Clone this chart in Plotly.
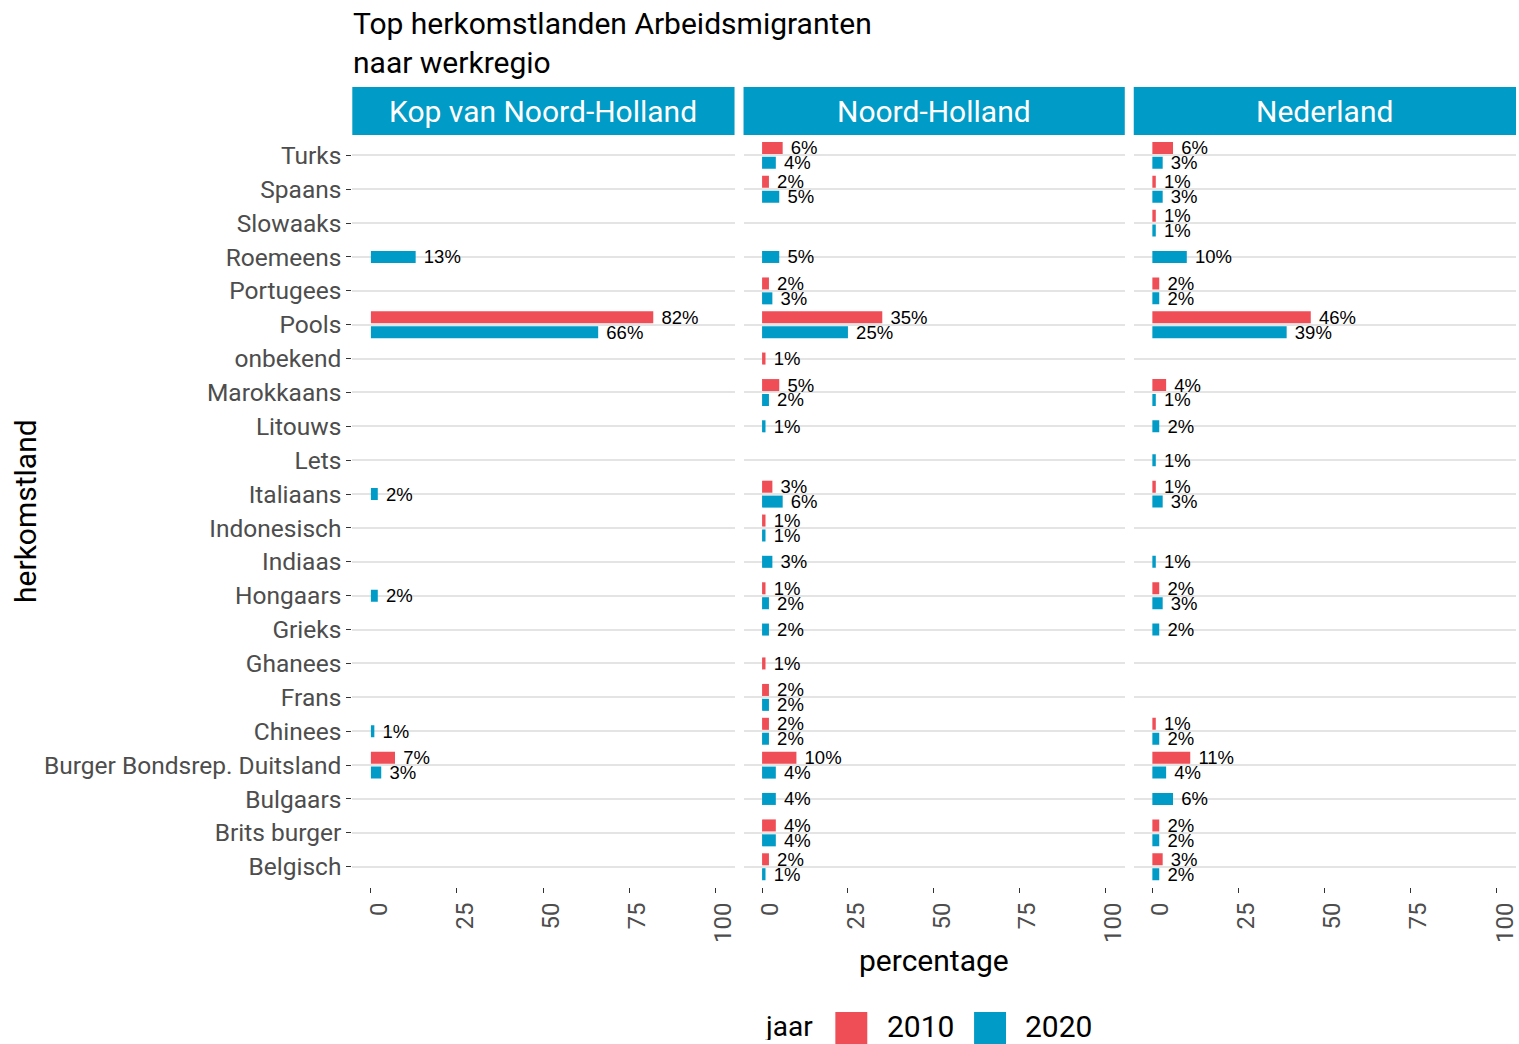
import plotly.graph_objects as go

# ---------------- data ----------------
categories = [
    "Belgisch", "Brits burger", "Bulgaars", "Burger Bondsrep. Duitsland", "Chinees",
    "Frans", "Ghanees", "Grieks", "Hongaars", "Indiaas", "Indonesisch", "Italiaans",
    "Lets", "Litouws", "Marokkaans", "onbekend", "Pools", "Portugees", "Roemeens",
    "Slowaaks", "Spaans", "Turks",
]
panels = ["Kop van Noord-Holland", "Noord-Holland", "Nederland"]
years = ["2010", "2020"]

kop_2010 = [None, None, None, 7, None, None, None, None, None, None, None, None,
            None, None, None, None, 82, None, None, None, None, None]
kop_2020 = [None, None, None, 3, 1, None, None, None, 2, None, None, 2,
            None, None, None, None, 66, None, 13, None, None, None]

nh_2010 = [2, 4, None, 10, 2, 2, 1, None, 1, None, 1, 3,
           None, None, 5, 1, 35, 2, None, None, 2, 6]
nh_2020 = [1, 4, 4, 4, 2, 2, None, 2, 2, 3, 1, 6,
           None, 1, 2, None, 25, 3, 5, None, 5, 4]

nl_2010 = [3, 2, None, 11, 1, None, None, None, 2, None, None, 1,
           None, None, 4, None, 46, 2, None, 1, 1, 6]
nl_2020 = [2, 2, 6, 4, 2, None, None, 2, 3, 1, None, 3,
           1, 2, 1, None, 39, 2, 10, 1, 3, 3]

x_ticks = [0, 25, 50, 75, 100]

# ---------------- style ----------------
W, H = 1519, 1044
RED = "#F04E56"
BLUE = "#009BC6"
STRIP = "#009BC6"
AXIS_TXT = "#4D4D4D"
GRID = "#E4E4E4"
MAIN_FONT = "Roboto"
LABEL_FONT = "Liberation Sans"

panel_px = [(353, 736), (745, 1127), (1136, 1519)]
panel_top, panel_bot = 135, 887
strip_top = 87

BAR_W = 0.355
OFF_UPPER = 0.04
OFF_LOWER = -0.40
OFF_SINGLE = -BAR_W / 2

data_by_panel = [(kop_2010, kop_2020), (nh_2010, nh_2020), (nl_2010, nl_2020)]
colors = {"2010": RED, "2020": BLUE}

fig = go.Figure()

for pi, (v10, v20) in enumerate(data_by_panel):
    xa = "x" if pi == 0 else f"x{pi + 1}"
    ya = "y" if pi == 0 else f"y{pi + 1}"
    for yr, vals, other in (("2010", v10, v20), ("2020", v20, v10)):
        offs = []
        for v, o in zip(vals, other):
            if o is None:
                offs.append(OFF_SINGLE)
            else:
                offs.append(OFF_UPPER if yr == "2010" else OFF_LOWER)
        texts = [("\u00a0" + f"{v}%") if v is not None else "" for v in vals]
        fig.add_trace(go.Bar(
            x=vals, y=categories, orientation="h",
            width=BAR_W, offset=offs,
            marker=dict(color=colors[yr], line=dict(width=0)),
            text=texts, textposition="outside", constraintext="none",
            cliponaxis=False,
            textfont=dict(family=LABEL_FONT, size=18.5, color="black"),
            name=yr, showlegend=False,
            xaxis=xa, yaxis=ya,
        ))

layout = dict(
    width=W, height=H, autosize=False,
    margin=dict(l=0, r=0, t=0, b=0),
    paper_bgcolor="white", plot_bgcolor="white",
    barmode="overlay",
    font=dict(family=MAIN_FONT, color="black"),
    showlegend=False,
)

ydom = [1 - panel_bot / H, 1 - panel_top / H]
for pi, (x0, x1) in enumerate(panel_px):
    sx = "" if pi == 0 else str(pi + 1)
    layout[f"xaxis{sx}"] = dict(
        domain=[x0 / W, x1 / W], anchor=f"y{sx}",
        range=[-5.4, 105.6], tickvals=x_ticks, ticktext=[str(t) for t in x_ticks],
        tickangle=-90, ticks="outside", ticklen=5, tickwidth=1, tickcolor="#333333",
        ticklabelshift=8,
        tickfont=dict(family=MAIN_FONT, size=24, color=AXIS_TXT),
        showgrid=False, zeroline=False, showline=False,
    )
    yax = dict(
        domain=ydom, anchor=f"x{sx}",
        type="category", categoryorder="array", categoryarray=categories,
        range=[-0.6, len(categories) - 0.4],
        showgrid=True, gridcolor=GRID, gridwidth=2,
        zeroline=False, showline=False,
    )
    if pi == 0:
        yax.update(ticks="outside", ticklen=5, tickwidth=1, tickcolor="#333333",
                   tickfont=dict(family=MAIN_FONT, size=24.5, color=AXIS_TXT),
                   showticklabels=True)
    else:
        yax.update(ticks="", showticklabels=False, matches="y")
    layout[f"yaxis{sx}"] = yax

shapes = []
annotations = []
for pi, (x0, x1) in enumerate(panel_px):
    shapes.append(dict(type="rect", xref="paper", yref="paper",
                       x0=x0 / W, x1=x1 / W, y0=1 - panel_top / H, y1=1 - strip_top / H,
                       fillcolor=STRIP, line=dict(width=0), layer="below"))
    annotations.append(dict(text=panels[pi], xref="paper", yref="paper",
                            x=(x0 + x1) / 2 / W, y=1 - (strip_top + panel_top) / 2 / H,
                            xanchor="center", yanchor="middle", showarrow=False,
                            font=dict(family=MAIN_FONT, size=30, color="white")))

# title
annotations.append(dict(text="Top herkomstlanden Arbeidsmigranten<br>naar werkregio",
                        xref="paper", yref="paper", x=352 / W, y=1 - 4 / H,
                        xanchor="left", yanchor="top", align="left", showarrow=False,
                        font=dict(family=MAIN_FONT, size=30, color="black")))
# axis titles
annotations.append(dict(text="percentage", xref="paper", yref="paper",
                        x=(353 + 1518) / 2 / W, y=1 - 960 / H,
                        xanchor="center", yanchor="middle", showarrow=False,
                        font=dict(family=MAIN_FONT, size=30, color="black")))
annotations.append(dict(text="herkomstland", xref="paper", yref="paper",
                        x=25 / W, y=1 - (panel_top + panel_bot) / 2 / H, textangle=-90,
                        xanchor="center", yanchor="middle", showarrow=False,
                        font=dict(family=MAIN_FONT, size=30, color="black")))

# legend (drawn manually to get large keys)
leg_y0, leg_y1 = 1012, 1044
leg_mid = 1026
annotations.append(dict(text="jaar", xref="paper", yref="paper", x=817 / W, y=1 - leg_mid / H,
                        xanchor="right", yanchor="middle", showarrow=False, height=28,
                        font=dict(family=MAIN_FONT, size=28, color="black")))
for yr, kx0, tx in (("2010", 837, 887), ("2020", 976, 1025)):
    shapes.append(dict(type="rect", xref="paper", yref="paper",
                       x0=kx0 / W, x1=(kx0 + 32) / W, y0=1 - leg_y1 / H, y1=1 - leg_y0 / H,
                       fillcolor=colors[yr], line=dict(width=0)))
    annotations.append(dict(text=yr, xref="paper", yref="paper", x=tx / W, y=1 - leg_mid / H,
                            xanchor="left", yanchor="middle", showarrow=False, height=28,
                            font=dict(family=MAIN_FONT, size=30, color="black")))

layout["shapes"] = shapes
layout["annotations"] = annotations
fig.update_layout(**layout)

fig.write_html(
    "out.html",
    config={"displayModeBar": False, "responsive": False},
    post_script="document.body.style.margin='0';document.body.style.overflow='hidden';",
)
